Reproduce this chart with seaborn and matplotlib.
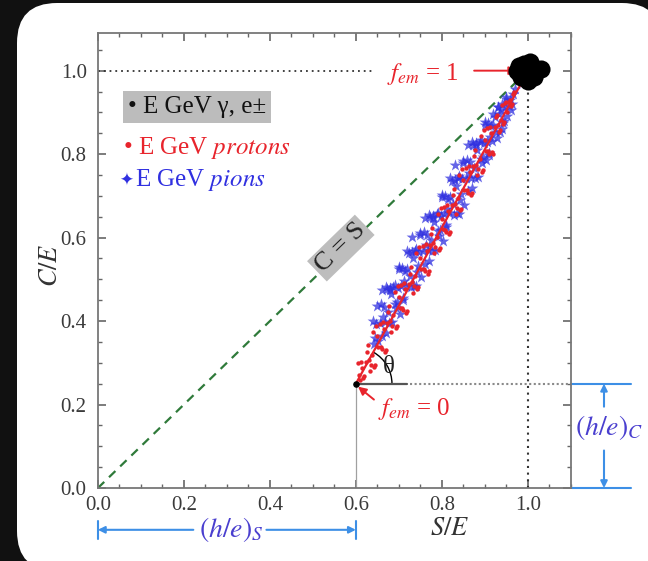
import matplotlib
matplotlib.use("Agg")
import matplotlib.pyplot as plt
from matplotlib.patches import FancyBboxPatch, Arc
from matplotlib.ticker import MultipleLocator
import seaborn as sns

# data
pion_x = [0.640, 0.645, 0.650, 0.655, 0.660, 0.665, 0.670, 0.675, 0.680, 0.685,
          0.690, 0.695, 0.700, 0.705, 0.710, 0.715, 0.720, 0.725, 0.730, 0.735,
          0.740, 0.745, 0.750, 0.755, 0.760, 0.765, 0.770, 0.775, 0.780, 0.785,
          0.790, 0.795, 0.800, 0.805, 0.810, 0.815, 0.820, 0.825, 0.830, 0.835,
          0.840, 0.845, 0.850, 0.855, 0.860, 0.865, 0.870, 0.875, 0.880, 0.885,
          0.890, 0.895, 0.900, 0.905, 0.910, 0.915, 0.920, 0.925, 0.930, 0.935,
          0.940, 0.945, 0.950, 0.955, 0.960,
          0.6425, 0.6475, 0.6525, 0.6575, 0.6625, 0.6675, 0.6725, 0.6775, 0.6825, 0.6875,
          0.6925, 0.6975, 0.7025, 0.7075, 0.7125, 0.7175, 0.7225, 0.7275, 0.7325, 0.7375,
          0.7425, 0.7475, 0.7525, 0.7575, 0.7625, 0.7675, 0.7725, 0.7775, 0.7825, 0.7875,
          0.7925, 0.7975, 0.8025, 0.8075, 0.8125, 0.8175, 0.8225, 0.8275, 0.8325, 0.8375,
          0.8425, 0.8475, 0.8525, 0.8575, 0.8625, 0.8675, 0.8725, 0.8775, 0.8825, 0.8875,
          0.8925, 0.8975, 0.9025, 0.9075, 0.9125, 0.9175, 0.9225, 0.9275, 0.9325, 0.9375,
          0.9425, 0.9475, 0.9525, 0.9575, 0.9625, 0.966, 0.970,
          0.66, 0.67, 0.68, 0.69, 0.70, 0.71, 0.72, 0.73, 0.74, 0.75,
          0.76, 0.77, 0.78, 0.79, 0.80, 0.81, 0.82, 0.83, 0.84, 0.85,
          0.86, 0.87, 0.88, 0.89, 0.90, 0.91, 0.92, 0.93, 0.94, 0.95]
pion_y = [0.400, 0.359, 0.437, 0.396, 0.365, 0.433, 0.482, 0.421, 0.479, 0.398,
          0.487, 0.445, 0.524, 0.483, 0.451, 0.520, 0.569, 0.507, 0.566, 0.485,
          0.573, 0.532, 0.611, 0.569, 0.538, 0.607, 0.655, 0.594, 0.653, 0.571,
          0.660, 0.619, 0.697, 0.656, 0.625, 0.693, 0.742, 0.681, 0.739, 0.658,
          0.747, 0.705, 0.784, 0.743, 0.711, 0.780, 0.829, 0.768, 0.826, 0.745,
          0.834, 0.792, 0.871, 0.830, 0.798, 0.867, 0.896, 0.854, 0.913, 0.852,
          0.920, 0.879, 0.938, 0.916, 0.905,
          0.344, 0.393, 0.352, 0.440, 0.409, 0.398, 0.476, 0.395, 0.464, 0.482,
          0.431, 0.480, 0.418, 0.527, 0.496, 0.484, 0.563, 0.482, 0.550, 0.569,
          0.518, 0.566, 0.505, 0.614, 0.582, 0.571, 0.650, 0.568, 0.637, 0.656,
          0.604, 0.653, 0.592, 0.700, 0.669, 0.658, 0.736, 0.655, 0.724, 0.742,
          0.691, 0.740, 0.678, 0.787, 0.756, 0.744, 0.823, 0.742, 0.810, 0.829,
          0.778, 0.826, 0.785, 0.874, 0.842, 0.831, 0.890, 0.838, 0.897, 0.906,
          0.874, 0.913, 0.892, 0.930, 0.919, 0.945, 0.955,
          0.475, 0.372, 0.474, 0.442, 0.529, 0.456, 0.524, 0.601, 0.483, 0.606,
          0.648, 0.545, 0.648, 0.615, 0.702, 0.630, 0.697, 0.774, 0.657, 0.779,
          0.821, 0.719, 0.821, 0.789, 0.876, 0.803, 0.871, 0.913, 0.860, 0.933]

proton_x = [0.605, 0.610, 0.615, 0.620, 0.625, 0.630, 0.635, 0.640, 0.645, 0.650,
            0.655, 0.660, 0.665, 0.670, 0.675, 0.680, 0.685, 0.690, 0.695, 0.700,
            0.705, 0.710, 0.715, 0.720, 0.725, 0.730, 0.735, 0.740, 0.745, 0.750,
            0.755, 0.760, 0.765, 0.770, 0.775, 0.780, 0.785, 0.790, 0.795, 0.800,
            0.805, 0.810, 0.815, 0.820, 0.825, 0.830, 0.835, 0.840, 0.845, 0.850,
            0.855, 0.860, 0.865, 0.870, 0.875, 0.880, 0.885, 0.890, 0.895, 0.900,
            0.905, 0.910, 0.915, 0.920, 0.925, 0.930, 0.935, 0.940, 0.945, 0.950,
            0.955, 0.960, 0.965,
            0.6075, 0.6125, 0.6175, 0.6225, 0.6275, 0.6325, 0.6375, 0.6425, 0.6475, 0.6525,
            0.6575, 0.6625, 0.6675, 0.6725, 0.6775, 0.6825, 0.6875, 0.6925, 0.6975, 0.7025,
            0.7075, 0.7125, 0.7175, 0.7225, 0.7275, 0.7325, 0.7375, 0.7425, 0.7475, 0.7525,
            0.7575, 0.7625, 0.7675, 0.7725, 0.7775, 0.7825, 0.7875, 0.7925, 0.7975, 0.8025,
            0.8075, 0.8125, 0.8175, 0.8225, 0.8275, 0.8325, 0.8375, 0.8425, 0.8475, 0.8525,
            0.8575, 0.8625, 0.8675, 0.8725, 0.8775, 0.8825, 0.8875, 0.8925, 0.8975, 0.9025,
            0.9075, 0.9125, 0.9175, 0.9225, 0.9275, 0.9325, 0.9375, 0.9425, 0.9475, 0.9525,
            0.9575, 0.9625, 0.9675]
proton_y = [0.299, 0.259, 0.288, 0.268, 0.327, 0.306, 0.296, 0.375, 0.294, 0.364,
            0.393, 0.333, 0.382, 0.331, 0.421, 0.400, 0.389, 0.469, 0.388, 0.458,
            0.487, 0.426, 0.476, 0.425, 0.514, 0.494, 0.483, 0.563, 0.482, 0.551,
            0.581, 0.520, 0.569, 0.519, 0.608, 0.588, 0.577, 0.656, 0.576, 0.645,
            0.674, 0.614, 0.663, 0.613, 0.702, 0.681, 0.671, 0.750, 0.669, 0.739,
            0.768, 0.708, 0.757, 0.706, 0.796, 0.775, 0.764, 0.844, 0.763, 0.833,
            0.862, 0.801, 0.851, 0.800, 0.889, 0.869, 0.858, 0.918, 0.877, 0.926,
            0.926, 0.915, 0.944,
            0.272, 0.303, 0.263, 0.302, 0.342, 0.281, 0.320, 0.290, 0.389, 0.338,
            0.338, 0.397, 0.327, 0.396, 0.435, 0.375, 0.414, 0.383, 0.483, 0.432,
            0.432, 0.491, 0.420, 0.490, 0.529, 0.468, 0.508, 0.477, 0.577, 0.526,
            0.525, 0.585, 0.514, 0.583, 0.623, 0.562, 0.602, 0.571, 0.670, 0.620,
            0.619, 0.678, 0.608, 0.677, 0.717, 0.656, 0.695, 0.665, 0.764, 0.713,
            0.713, 0.772, 0.702, 0.771, 0.810, 0.750, 0.789, 0.758, 0.858, 0.807,
            0.807, 0.866, 0.805, 0.865, 0.894, 0.853, 0.883, 0.872, 0.922, 0.901,
            0.930, 0.920, 0.949]

em_x = [0.975, 0.990, 1.005, 1.020, 0.985, 1.000, 1.030, 0.995, 1.015, 0.980]
em_y = [1.000, 1.015, 1.020, 1.000, 0.985, 0.975, 1.005, 1.000, 0.985, 1.012]

# hadron line from f_em = 0 to f_em = 1
had_x = [0.60, 0.99]
had_y = [0.25, 0.98]
cs_x = [0.0, 0.97]
cs_y = [0.0, 0.97]

red = "#e8242c"
blue = "#3030e0"
lblue = "#3d8fe6"
lab_blue = "#4a3fcf"

sns.set_theme(style="ticks")
plt.rcParams["font.family"] = ["Liberation Serif", "DejaVu Sans"]
plt.rcParams["mathtext.fontset"] = "stix"

fig = plt.figure(figsize=(6.48, 5.61), dpi=100, facecolor="#111111")
card = FancyBboxPatch((0.17, -0.1), 6.45, 5.68, boxstyle="round,pad=0,rounding_size=0.4",
                      transform=fig.dpi_scale_trans, fc="white", ec="none", zorder=-1)
fig.add_artist(card)

ax = fig.add_axes([0.151, 0.130, 0.730, 0.811])
ax.set_facecolor("white")

# reference lines
ax.plot([0, 0.645], [1.0, 1.0], color="#333333", ls=(0, (1, 2.2)), lw=1.3)
ax.plot([1.0, 1.0], [0, 0.965], color="#333333", ls=(0, (1, 2.2)), lw=1.5)
sns.lineplot(x=cs_x, y=cs_y, ax=ax, color="#2f7a3a", lw=1.6)
ax.lines[-1].set_linestyle((0, (4, 3)))
ax.plot([0.6, 0.72], [0.25, 0.25], color="#555555", lw=1.6)
ax.plot([0.725, 1.1], [0.25, 0.25], color="#8a8a8a", ls=(0, (1, 1.2)), lw=1.5)
ax.plot([0.6, 0.6], [0, 0.25], color="#a0a0a0", lw=0.9)

sns.scatterplot(x=pion_x, y=pion_y, ax=ax, marker="*", s=80, color=blue,
                linewidth=0, alpha=0.75, legend=False, zorder=3)
sns.lineplot(x=had_x, y=had_y, ax=ax, color=red, lw=1.6, zorder=4)
sns.scatterplot(x=proton_x, y=proton_y, ax=ax, marker="o", s=10, color=red,
                linewidth=0, legend=False, zorder=5)
sns.scatterplot(x=em_x, y=em_y, ax=ax, marker="o", s=170, color="black",
                linewidth=0, legend=False, zorder=6, clip_on=False)
ax.scatter([0.6], [0.25], s=14, color="black", zorder=6)

ax.add_patch(Arc((0.6, 0.25), 2 * 36 / 429, 2 * 36 / 417, theta1=0, theta2=61,
                 color="black", lw=1.0))
ax.text(0.662, 0.29, "θ", fontsize=18, color="#222222", va="center")

# legend drawn as text
ax.text(0.07, 0.913, "• E GeV γ, e±", fontsize=18, color="#111111", va="center",
        bbox=dict(fc="#bcbcbc", ec="none", boxstyle="square,pad=0.2"))
ax.text(0.058, 0.815, "• E GeV $\\mathit{protons}$", fontsize=18, color=red, va="center")
ax.text(0.05, 0.737, "✦", fontsize=12, color=blue, va="center", family="DejaVu Sans")
ax.text(0.086, 0.737, "E GeV $\\mathit{pions}$", fontsize=18, color=blue, va="center")

ax.text(0.565, 0.575, "C = S", fontsize=19, color="#222222", rotation=44.2,
        ha="center", va="center", rotation_mode="anchor",
        bbox=dict(fc="#bdbdbd", ec="none", boxstyle="square,pad=0.12"))

# f_em labels
ax.text(0.672, 0.993, "$f_{em}$ = 1", fontsize=18, color=red, va="center")
ax.annotate("", xy=(0.975, 1.0), xytext=(0.875, 1.0),
            arrowprops=dict(arrowstyle="-|>", color=red, lw=1.4, shrinkA=0, shrinkB=0))
ax.text(0.652, 0.19, "$f_{em}$ = 0", fontsize=18, color=red, va="center")
ax.annotate("", xy=(0.605, 0.243), xytext=(0.642, 0.212),
            arrowprops=dict(arrowstyle="-|>", color=red, lw=1.4, shrinkA=0, shrinkB=0))

# (h/e)_S below the x axis
yS = -0.1
for x0, x1 in [(0.222, 0.0), (0.392, 0.6)]:
    ax.annotate("", xy=(x1, yS), xytext=(x0, yS), annotation_clip=False,
                arrowprops=dict(arrowstyle="-|>", color=lblue, lw=1.5,
                                shrinkA=0, shrinkB=0, mutation_scale=10))
for xb in [0.0, 0.6]:
    ax.plot([xb, xb], [yS - 0.022, yS + 0.022], color=lblue, lw=1.5, clip_on=False)
ax.text(0.31, yS, "$(h/e)_S$", fontsize=20, color=lab_blue, ha="center", va="center")

# (h/e)_C right of the axes
xC = 1.177
for yy in [0.25, 0.0]:
    ax.plot([1.103, 1.24], [yy, yy], color=lblue, lw=1.5, clip_on=False)
for y0, y1 in [(0.195, 0.25), (0.09, 0.0)]:
    ax.annotate("", xy=(xC, y1), xytext=(xC, y0), annotation_clip=False,
                arrowprops=dict(arrowstyle="-|>", color=lblue, lw=1.5,
                                shrinkA=0, shrinkB=0, mutation_scale=10))
ax.text(1.19, 0.144, "$(h/e)_C$", fontsize=20, color=lab_blue, ha="center", va="center")

# axis labels
ax.text(0.772, -0.097, "$S/E$", fontsize=19, color="#333333", va="center")
ax.text(-0.108, 0.535, "$C/E$", fontsize=19, color="#333333", va="center",
        ha="center", rotation=90)

ax.set_xlim(0, 1.1)
ax.set_ylim(0, 1.09)
ax.xaxis.set_major_locator(MultipleLocator(0.2))
ax.yaxis.set_major_locator(MultipleLocator(0.2))
ax.xaxis.set_minor_locator(MultipleLocator(0.05))
ax.yaxis.set_minor_locator(MultipleLocator(0.05))
ax.tick_params(which="both", direction="in", top=True, right=True, color="#666666",
               labelcolor="#3a3a3a", labelsize=15)
ax.tick_params(which="major", length=6, width=1.2)
ax.tick_params(which="minor", length=3, width=1.0)
ax.tick_params(axis="x", pad=6)
ax.tick_params(axis="y", pad=8)
ax.set_xticks(ax.get_xticks())
ax.set_yticks(ax.get_yticks())
ax.set_xticklabels([f"{v:.1f}" for v in ax.get_xticks()])
ax.set_yticklabels([f"{v:.1f}" for v in ax.get_yticks()])
ax.set_xlim(0, 1.1)
ax.set_ylim(0, 1.09)
for sp in ax.spines.values():
    sp.set_color("#777777")
    sp.set_linewidth(1.3)
ax.set_xlabel("")
ax.set_ylabel("")

fig.savefig("out.png", dpi=100, facecolor=fig.get_facecolor())
